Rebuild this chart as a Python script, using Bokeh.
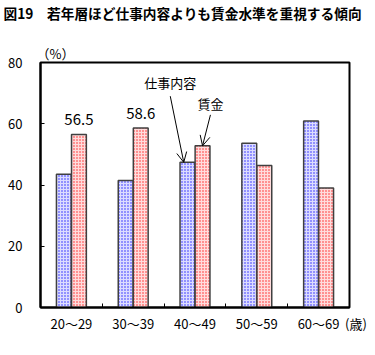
import numpy as np
from bokeh.plotting import figure
from bokeh.models import Range1d, FixedTicker, Label, Arrow, OpenHead, ColumnDataSource, Title
from bokeh.embed import file_html
from bokeh.resources import INLINE

categories = ["20～29", "30～39", "40～49", "50～59", "60～69"]
shigoto = [43.5, 41.5, 47.4, 53.6, 60.9]   # 仕事内容
chingin = [56.5, 58.6, 52.8, 46.4, 39.0]   # 賃金
value_labels = ["56.5", "58.6", None, None, None]
y_ticks = [0, 20, 40, 60, 80]
age_unit = "(歳)"

FONT = "Noto Sans CJK JP"

centers = np.arange(len(categories)) + 0.5
off = 0.122
bw = 0.24

src = ColumnDataSource(dict(
    xb=centers - off, xr=centers + off, shigoto=shigoto, chingin=chingin))

p = figure(width=367, height=339, output_backend="svg", toolbar_location=None,
           x_range=Range1d(0, 5), y_range=Range1d(0, 80), title=None,
           min_border_left=40, min_border_right=18, min_border_top=59, min_border_bottom=32)
p.background_fill_color = "white"
p.border_fill_color = "white"
p.outline_line_color = "black"
p.outline_line_width = 2
p.grid.visible = False

p.vbar(x="xb", top="shigoto", width=bw, source=src,
       fill_color="#dcdcff", hatch_pattern="dot", hatch_color="#2020ff",
       hatch_scale=3, hatch_weight=1,
       line_color="#404040", line_width=1.5)
p.vbar(x="xr", top="chingin", width=bw, source=src,
       fill_color="#ffdcdc", hatch_pattern="dot", hatch_color="#ff2020",
       hatch_scale=3, hatch_weight=1,
       line_color="#404040", line_width=1.5)

p.yaxis.ticker = FixedTicker(ticks=y_ticks)
p.yaxis.major_tick_in = 4
p.yaxis.major_tick_out = 0
p.yaxis.minor_tick_line_color = None
p.yaxis.major_label_standoff = 18
p.yaxis.major_label_text_font = FONT
p.yaxis.major_label_text_font_size = "13px"
p.yaxis.major_label_text_color = "black"
p.yaxis.axis_line_width = 2
p.yaxis.axis_line_color = "black"

xticks = list(centers) + [5.0]
overrides = {float(c): lab for c, lab in zip(centers, categories)}
overrides[5.0] = "　" + age_unit
p.xaxis.ticker = FixedTicker(ticks=xticks, minor_ticks=[1, 2, 3, 4])
p.xaxis.major_label_overrides = overrides
p.xaxis.major_tick_in = 0
p.xaxis.major_tick_out = 0
p.xaxis.minor_tick_in = 4
p.xaxis.minor_tick_out = 0
p.xaxis.minor_tick_line_color = "black"
p.xaxis.major_label_standoff = 6
p.xaxis.major_label_text_font = FONT
p.xaxis.major_label_text_font_size = "13px"
p.xaxis.major_label_text_color = "black"
p.xaxis.axis_line_width = 2
p.xaxis.axis_line_color = "black"

for c, v, lab in zip(centers, chingin, value_labels):
    if lab:
        p.add_layout(Label(x=c + off, y=v, y_offset=9, text=lab, text_align="center",
                           text_baseline="bottom", text_font=FONT,
                           text_font_size="15px", text_color="black"))

i = 2
p.add_layout(Arrow(end=OpenHead(size=10, line_width=1), line_width=1,
                   x_start=2.10, y_start=69.0,
                   x_end=centers[i] - off - 0.06, y_end=shigoto[i]))
p.add_layout(Label(x=2.10, y=70.5, text="仕事内容", text_align="center",
                   text_baseline="bottom", text_font=FONT, text_font_size="13px",
                   text_color="black"))
p.add_layout(Arrow(end=OpenHead(size=10, line_width=1), line_width=1,
                   x_start=2.75, y_start=62.9,
                   x_end=centers[i] + off, y_end=chingin[i]))
p.add_layout(Label(x=2.75, y=63.5, text="賃金", text_align="center",
                   text_baseline="bottom", text_font=FONT, text_font_size="13px",
                   text_color="black"))

p.add_layout(Title(text="（%）", align="left", offset=-4, standoff=0,
                   text_font=FONT, text_font_size="13px", text_font_style="normal",
                   text_color="black"), "above")
p.add_layout(Title(text=" ", align="left", offset=0, standoff=16,
                   text_font=FONT, text_font_size="1px", text_color="white"), "above")
p.add_layout(Title(text="図19　若年層ほど仕事内容よりも賃金水準を重視する傾向",
                   align="left", offset=-37, standoff=0,
                   text_font=FONT, text_font_size="13.7px", text_font_style="bold",
                   text_color="black"), "above")

open("out.html", "w").write(file_html(p, INLINE))
